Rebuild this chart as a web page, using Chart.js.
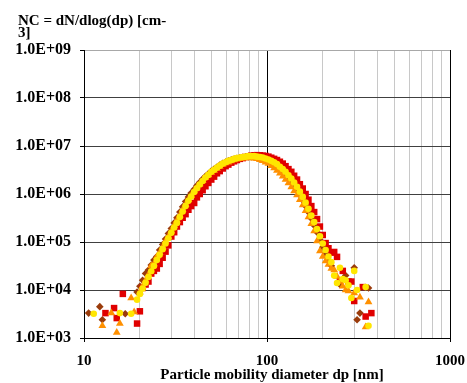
<!DOCTYPE html>
<html lang="en">
<head>
<meta charset="UTF-8">
<title>Particle size distribution</title>
<style>
  body { margin: 0; background: #fff; }
  #chart { display: block; }
</style>
</head>
<body>
<canvas id="chart" width="467" height="383"></canvas>
<script src="https://cdn.jsdelivr.net/npm/chart.js"></script>
<script>
// SMPS channel midpoints [nm], 64 channels per decade
var diameters = [10.2, 10.6, 10.9, 11.3, 11.8, 12.2, 12.6, 13.1, 13.6, 14.1,
  14.6, 15.1, 15.7, 16.3, 16.8, 17.5, 18.1, 18.8, 19.5, 20.2,
  20.9, 21.7, 22.5, 23.3, 24.1, 25.0, 25.9, 26.9, 27.9, 28.9,
  30.0, 31.1, 32.2, 33.4, 34.6, 35.9, 37.2, 38.5, 40.0, 41.4,
  42.9, 44.5, 46.1, 47.8, 49.6, 51.4, 53.3, 55.2, 57.3, 59.4,
  61.5, 63.8, 66.1, 68.5, 71.0, 73.7, 76.4, 79.1, 82.0, 85.1,
  88.2, 91.4, 94.7, 98.2, 101.8, 105.5, 109.4, 113.4, 117.6, 121.9,
  126.3, 131.0, 135.8, 140.7, 145.9, 151.2, 156.8, 162.5, 168.5, 174.7,
  181.1, 187.7, 194.6, 201.7, 209.1, 216.7, 224.7, 232.9, 241.4, 250.3,
  259.5, 269.0, 278.8, 289.0, 299.6, 310.6, 322.0, 333.8, 346.0, 358.7,
  371.8, 385.4];

// NC = dN/dlog(dp) [cm-3] per measurement, same channels (null = not plotted)
var ncYellow = [null, null, null, 3.2e3, null, null, null, null, null, null,
  null, null, 3.3e3, null, null, null, 3.2e3, null, 6.3e3, 8.3e3,
  1.07e4, 1.41e4, 1.86e4, 2.45e4, 3.16e4, 4.2e4, 5.4e4, 7.1e4, 9.3e4, 1.2e5,
  1.55e5, 2.0e5, 2.5e5, 3.3e5, 4.3e5, 5.6e5, 7.2e5, 8.9e5, 1.1e6, 1.32e6,
  1.58e6, 1.86e6, 2.2e6, 2.5e6, 2.9e6, 3.2e6, 3.55e6, 3.9e6, 4.3e6, 4.6e6,
  4.9e6, 5.1e6, 5.4e6, 5.6e6, 5.75e6, 5.9e6, 6.0e6, 6.15e6, 6.15e6, 6.15e6,
  6.0e6, 5.9e6, 5.75e6, 5.5e6, 5.25e6, 4.9e6, 4.6e6, 4.2e6, 3.7e6, 3.3e6,
  2.9e6, 2.45e6, 2.1e6, 1.74e6, 1.41e6, 1.12e6, 8.7e5, 6.6e5, 4.9e5, 3.55e5,
  2.6e5, 1.86e5, 1.32e5, 9.3e4, 6.8e4, 5.0e4, 3.8e4, 2.0e4, 1.4e4, 2.9e4,
  1.7e4, 1.6e4, 1.26e4, 6.8e3, 2.5e4, 1.0e4, null, null, 1.15e4, 1.8e3,
  null, null];
var ncOrange = [null, null, null, null, null, null, 1.8e3, null, null, 3.3e3,
  null, 1.3e3, 2.0e3, null, null, null, 6.8e3, 3.5e3, null, 9.0e3,
  1.2e4, 1.6e4, 2.1e4, 3.2e4, 3.5e4, 4.9e4, 6.0e4, 7.8e4, 1.05e5, 1.3e5,
  1.7e5, 2.2e5, 2.8e5, 3.6e5, 4.7e5, 6.0e5, 7.6e5, 9.3e5, 1.15e6, 1.38e6,
  1.62e6, 1.9e6, 2.2e6, 2.5e6, 2.8e6, 3.1e6, 3.4e6, 3.75e6, 4.1e6, 4.4e6,
  4.6e6, 4.85e6, 5.1e6, 5.3e6, 5.45e6, 5.55e6, 5.65e6, 5.7e6, 5.65e6, 5.55e6,
  5.4e6, 5.2e6, 4.95e6, 4.6e6, 4.3e6, 3.9e6, 3.5e6, 3.1e6, 2.7e6, 2.35e6,
  2.0e6, 1.7e6, 1.4e6, 1.15e6, 9.5e5, 7.6e5, 5.9e5, 4.5e5, 3.3e5, 2.4e5,
  1.7e5, 1.05e5, 6.5e4, 5.0e4, 4.0e4, 3.4e4, 2.8e4, 2.6e4, 1.9e4, 1.5e4,
  1.2e4, 1.0e4, 9.5e3, null, 8.7e3, null, 7.1e3, null, 1.7e3, 5.6e3,
  null, null];
var ncRed = [null, null, null, null, null, null, null, 3.3e3, null, null,
  4.2e3, 2.6e3, null, 8.3e3, null, null, null, null, 2.0e3, 3.6e3,
  1.1e4, 1.3e4, 1.5e4, 2.2e4, 2.5e4, 2.8e4, 3.5e4, 4.7e4, 6.3e4, 8.5e4,
  1.3e5, 1.6e5, 2.1e5, 2.6e5, 3.2e5, 3.8e5, 4.7e5, 5.6e5, 6.5e5, 8.5e5,
  1.0e6, 1.2e6, 1.45e6, 1.7e6, 2.0e6, 2.3e6, 2.7e6, 3.0e6, 3.4e6, 3.8e6,
  4.1e6, 4.5e6, 4.8e6, 5.1e6, 5.4e6, 5.6e6, 5.9e6, 6.1e6, 6.3e6, 6.4e6,
  6.45e6, 6.4e6, 6.3e6, 6.2e6, 6.0e6, 5.7e6, 5.4e6, 5.1e6, 4.7e6, 4.3e6,
  3.8e6, 3.3e6, 2.9e6, 2.4e6, 2.0e6, 1.6e6, 1.3e6, 1.0e6, 7.6e5, 5.6e5,
  4.2e5, 3.0e5, 2.1e5, 1.4e5, 9.5e4, 7.4e4, 6.0e4, 6.2e4, 4.9e4, 1.6e4,
  2.5e4, null, 1.5e4, 1.5e4, 5.9e3, null, null, 1.15e4, 2.8e3, null,
  3.3e3, null];
var ncBrown = [null, 3.3e3, null, null, null, 4.5e3, 2.4e3, null, null, null,
  null, null, null, null, 3.2e3, null, null, null, 9.1e3, 1.2e4,
  1.6e4, 2.2e4, 2.6e4, 3.3e4, 4.2e4, 5.0e4, 6.8e4, 8.9e4, 1.15e5, 1.5e5,
  1.9e5, 2.5e5, 3.2e5, 4.2e5, 5.4e5, 7.0e5, 8.7e5, 1.05e6, 1.26e6, 1.5e6,
  1.75e6, 2.05e6, 2.35e6, 2.65e6, 3.0e6, 3.3e6, 3.65e6, 4.0e6, 4.35e6, 4.65e6,
  4.9e6, 5.15e6, 5.35e6, 5.55e6, 5.7e6, 5.8e6, 5.9e6, 5.95e6, 5.95e6, 5.9e6,
  5.8e6, 5.6e6, 5.4e6, 5.15e6, 4.85e6, 4.5e6, 4.1e6, 3.7e6, 3.3e6, 2.9e6,
  2.5e6, 2.1e6, 1.8e6, 1.5e6, 1.2e6, 9.5e5, 7.4e5, 5.6e5, 4.2e5, 3.1e5,
  2.2e5, 1.6e5, 1.1e5, 7.8e4, 5.6e4, 4.2e4, 3.2e4, null, null, 1.3e4,
  null, 2.0e4, null, null, 2.9e4, 2.4e3, 3.3e3, null, null, 1.1e4,
  null, null];

var xTicks = [10, 20, 30, 40, 50, 60, 70, 80, 90, 100, 200, 300, 400, 500, 600, 700, 800, 900, 1000];
var xMajor = [10, 100, 1000];
var xTickLabels = ['10', '100', '1000'];
var yTicks = [1e3, 1e4, 1e5, 1e6, 1e7, 1e8, 1e9];
var yTickLabels = ['1.0E+03', '1.0E+04', '1.0E+05', '1.0E+06', '1.0E+07', '1.0E+08', '1.0E+09'];

var serif = "'Liberation Serif', 'Times New Roman', serif";

function toPoints(values) {
    var pts = [];
    for (var i = 0; i < diameters.length; i++) {
        if (values[i] !== null) pts.push({x: diameters[i], y: values[i]});
    }
    return pts;
}

// axis titles, placed like the spreadsheet original
var titles = {
    id: 'titles',
    afterDraw: function(chart) {
        var ctx = chart.ctx;
        ctx.save();
        ctx.fillStyle = '#000';
        ctx.font = 'bold 15px ' + serif;
        ctx.textAlign = 'left';
        ctx.textBaseline = 'alphabetic';
        ctx.fillText('NC = dN/dlog(dp) [cm-', 18, 25);
        ctx.fillText('3]', 18, 37);
        ctx.textAlign = 'center';
        ctx.fillText('Particle mobility diameter dp [nm]', 272, 379);
        ctx.restore();
    }
};

new Chart(document.getElementById('chart'), {
    type: 'scatter',
    data: {
        datasets: [
            { data: toPoints(ncYellow), pointStyle: 'circle', pointRadius: 3.3, backgroundColor: '#FFE600', borderWidth: 0 },
            { data: toPoints(ncOrange), pointStyle: 'triangle', pointRadius: 4.5, backgroundColor: '#FF9000', borderWidth: 0 },
            { data: toPoints(ncRed), pointStyle: 'rect', pointRadius: 4.6, backgroundColor: '#E00000', borderWidth: 0 },
            { data: toPoints(ncBrown), pointStyle: 'rectRot', pointRadius: 3.8, backgroundColor: '#9A3B0B', borderWidth: 0 }
        ]
    },
    options: {
        responsive: false,
        animation: false,
        events: [],
        layout: { padding: { top: 50, right: 17, left: 0, bottom: 0 } },
        plugins: { legend: { display: false }, tooltip: { enabled: false }, title: { display: false } },
        scales: {
            x: {
                type: 'logarithmic',
                min: 10,
                max: 1000,
                afterBuildTicks: function(s) { s.ticks = xTicks.map(function(v) { return {value: v}; }); },
                afterFit: function(s) { s.height = 45; s.paddingLeft = 0; s.paddingRight = 0; },
                border: { color: '#000', width: 1 },
                grid: {
                    color: function(c) { return xMajor.indexOf(c.tick && c.tick.value) >= 0 ? '#000' : '#c8c8c8'; },
                    tickColor: function(c) { return xMajor.indexOf(c.tick && c.tick.value) >= 0 ? '#000' : 'rgba(0,0,0,0)'; },
                    tickLength: 4
                },
                ticks: {
                    autoSkip: false,
                    maxRotation: 0,
                    padding: 10,
                    color: '#000',
                    font: { family: serif, size: 15, weight: 'bold' },
                    callback: function(v) {
                        var k = xMajor.indexOf(v);
                        return k >= 0 ? xTickLabels[k] : '';
                    }
                }
            },
            y: {
                type: 'logarithmic',
                min: 1e3,
                max: 1e9,
                afterBuildTicks: function(s) { s.ticks = yTicks.map(function(v) { return {value: v}; }); },
                afterFit: function(s) { s.width = 84; s.paddingTop = 0; s.paddingBottom = 0; },
                border: { color: '#000', width: 1 },
                grid: {
                    color: function(c) { return c.tick && c.tick.value === 1e9 ? '#a8a8a8' : '#404040'; },
                    tickColor: '#000',
                    tickLength: 4
                },
                ticks: {
                    autoSkip: false,
                    padding: 9,
                    color: '#000',
                    font: { family: serif, size: 16, weight: 'bold' },
                    callback: function(v) {
                        var k = yTicks.indexOf(v);
                        return k >= 0 ? yTickLabels[k] : '';
                    }
                }
            }
        }
    },
    plugins: [titles]
});
</script>
</body>
</html>
